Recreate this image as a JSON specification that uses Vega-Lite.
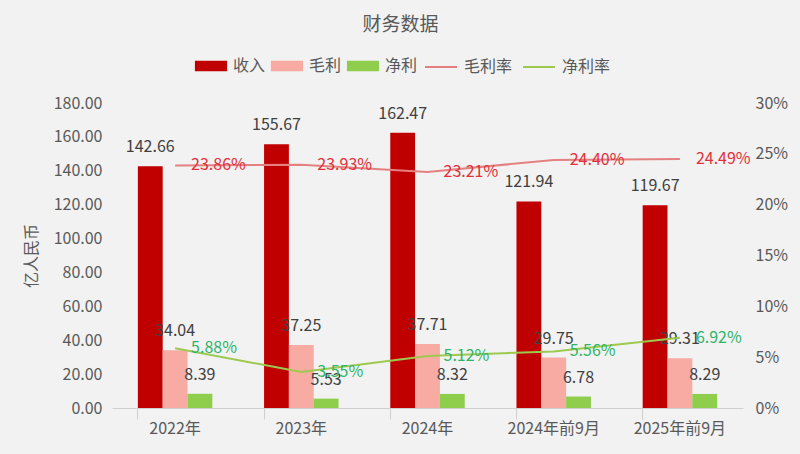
{
  "$schema": "https://vega.github.io/schema/vega-lite/v6.json",
  "autosize": "none",
  "width": 631,
  "height": 305,
  "padding": {"left": 112, "top": 103, "right": 57, "bottom": 46},
  "background": "#f2f2f2",
  "title": {"text": "财务数据", "fontSize": 19, "fontWeight": "normal", "color": "#595959", "font": "Noto Sans CJK SC", "dx": -27, "offset": 15},
  "config": {
    "font": "Noto Sans CJK SC",
    "view": {"stroke": null},
    "axis": {"labelFont": "Noto Sans CJK SC", "titleFont": "Noto Sans CJK SC", "labelColor": "#595959", "titleColor": "#595959", "labelFontSize": 16, "titleFontSize": 16, "titleFontWeight": "normal", "grid": false},
    "legend": {"labelFont": "Noto Sans CJK SC", "labelFontSize": 16, "labelColor": "#595959", "title": null, "padding": 0}
  },
  "data": {"values": [
    {"year": "2022年", "series": "收入", "value": 142.66},
    {"year": "2022年", "series": "毛利", "value": 34.04},
    {"year": "2022年", "series": "净利", "value": 8.39},
    {"year": "2022年", "series": "毛利率", "value": 0.2386},
    {"year": "2022年", "series": "净利率", "value": 0.0588},
    {"year": "2023年", "series": "收入", "value": 155.67},
    {"year": "2023年", "series": "毛利", "value": 37.25},
    {"year": "2023年", "series": "净利", "value": 5.53},
    {"year": "2023年", "series": "毛利率", "value": 0.2393},
    {"year": "2023年", "series": "净利率", "value": 0.0355},
    {"year": "2024年", "series": "收入", "value": 162.47},
    {"year": "2024年", "series": "毛利", "value": 37.71},
    {"year": "2024年", "series": "净利", "value": 8.32},
    {"year": "2024年", "series": "毛利率", "value": 0.2321},
    {"year": "2024年", "series": "净利率", "value": 0.0512},
    {"year": "2024年前9月", "series": "收入", "value": 121.94},
    {"year": "2024年前9月", "series": "毛利", "value": 29.75},
    {"year": "2024年前9月", "series": "净利", "value": 6.78},
    {"year": "2024年前9月", "series": "毛利率", "value": 0.2440},
    {"year": "2024年前9月", "series": "净利率", "value": 0.0556},
    {"year": "2025年前9月", "series": "收入", "value": 119.67},
    {"year": "2025年前9月", "series": "毛利", "value": 29.31},
    {"year": "2025年前9月", "series": "净利", "value": 8.29},
    {"year": "2025年前9月", "series": "毛利率", "value": 0.2449},
    {"year": "2025年前9月", "series": "净利率", "value": 0.0692}
  ]},
  "encoding": {
    "x": {"field": "year", "type": "nominal", "sort": null,
      "scale": {"paddingInner": 0.41, "paddingOuter": 0.205},
      "axis": {"title": null, "labelAngle": 0, "domainColor": "#d0d0d0", "tickColor": "#d0d0d0", "tickSize": 11, "bandPosition": 0, "labelPadding": 1, "ticks": true}
    }
  },
  "layer": [
    {
      "transform": [{"filter": "datum.series === '收入' || datum.series === '毛利' || datum.series === '净利'"}],
      "encoding": {
        "y": {"field": "value", "type": "quantitative",
          "scale": {"domain": [0, 180]},
          "axis": {"orient": "left", "values": [0, 20, 40, 60, 80, 100, 120, 140, 160, 180], "format": ".2f", "title": "亿人民币", "domain": false, "ticks": false, "labelPadding": 10, "titlePadding": 14}
        },
        "xOffset": {"field": "series", "type": "nominal", "scale": {"domain": ["收入", "毛利", "净利"], "padding": 0}}
      },
      "layer": [
        {
          "mark": {"type": "bar"},
          "encoding": {
            "color": {"field": "series", "type": "nominal",
              "scale": {"domain": ["收入", "毛利", "净利"], "range": ["#c00000", "#f7aba3", "#8fcd4d"]},
              "legend": {"orient": "none", "legendX": 88, "legendY": -48, "direction": "horizontal", "symbolType": "M-1.5,-0.5H1.5V0.5H-1.5Z", "symbolSize": 460, "symbolStrokeWidth": 0, "labelOffset": 11, "columnPadding": 4}
            }
          }
        },
        {
          "mark": {"type": "text", "baseline": "alphabetic", "dy": -14, "fontSize": 16, "color": "#404040"},
          "encoding": {"text": {"field": "value", "type": "quantitative", "format": ".2f"}}
        }
      ]
    },
    {
      "transform": [{"filter": "datum.series === '毛利率' || datum.series === '净利率'"}],
      "encoding": {
        "y": {"field": "value", "type": "quantitative",
          "scale": {"domain": [0, 0.3]},
          "axis": {"orient": "right", "values": [0, 0.05, 0.1, 0.15, 0.2, 0.25, 0.3], "format": ".0%", "title": null, "domain": false, "ticks": false, "labelPadding": 12}
        }
      },
      "layer": [
        {
          "mark": {"type": "line", "strokeWidth": 2},
          "encoding": {
            "stroke": {"field": "series", "type": "nominal",
              "scale": {"domain": ["毛利率", "净利率"], "range": ["#e58080", "#9dc94e"]},
              "legend": {"orient": "none", "legendX": 312, "legendY": -53, "direction": "horizontal", "symbolType": "stroke", "symbolSize": 1024, "symbolStrokeWidth": 2, "labelOffset": 6, "columnPadding": 6}
            }
          }
        },
        {
          "mark": {"type": "text", "align": "left", "baseline": "middle", "dx": 16, "fontSize": 16},
          "encoding": {
            "text": {"field": "value", "type": "quantitative", "format": ".2%"},
            "color": {"condition": {"test": "datum.series === '毛利率'", "value": "#e0303a"}, "value": "#2fb46a"}
          }
        }
      ]
    }
  ],
  "resolve": {"scale": {"y": "independent"}}
}
